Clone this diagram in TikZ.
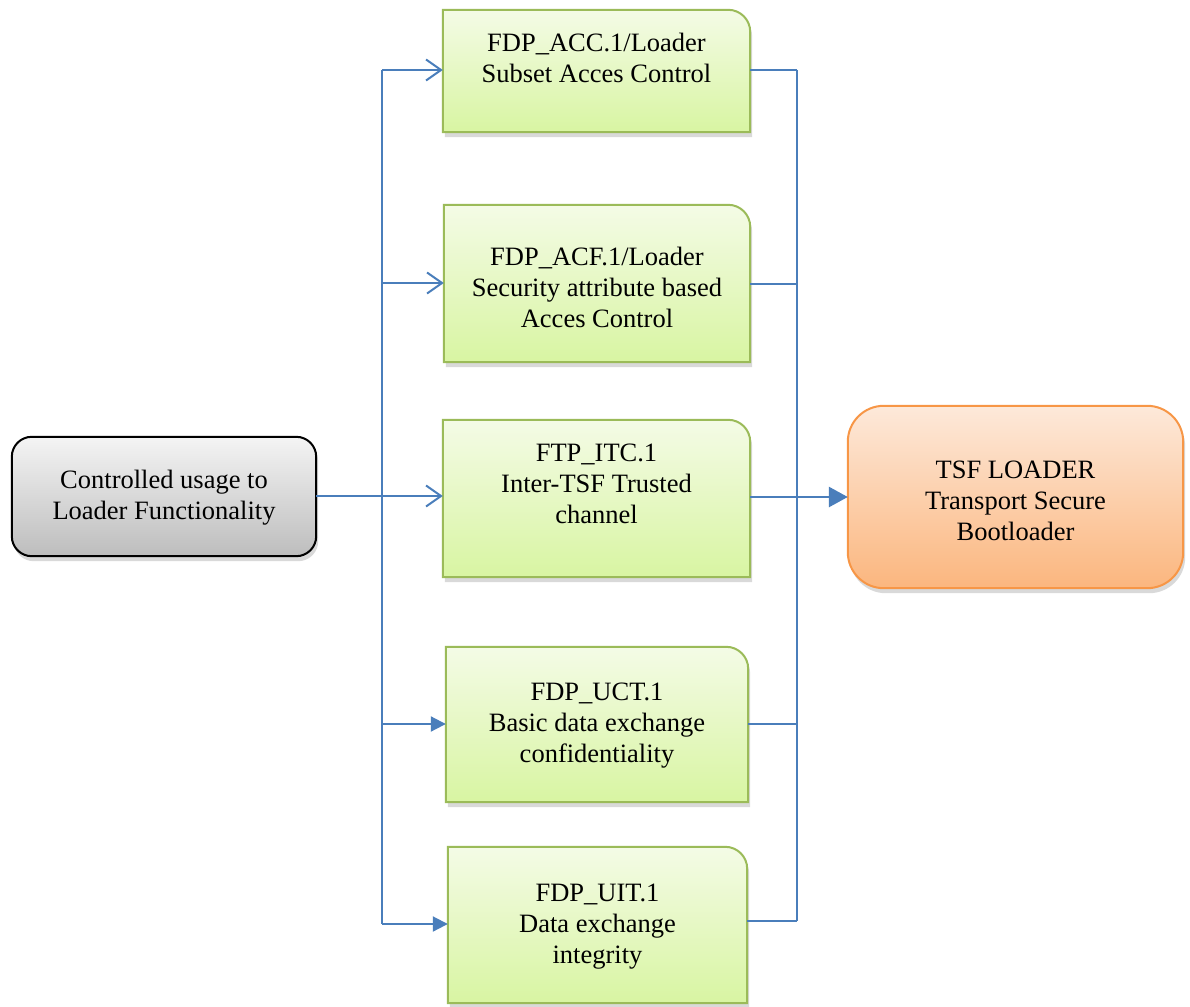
\documentclass[tikz,border=0pt]{standalone}
\usepackage{fontspec}
\setmainfont{Liberation Serif}
\usetikzlibrary{arrows.meta,shadows}
\definecolor{lineblue}{HTML}{4A7EBB}
\definecolor{gtop}{HTML}{F4FBE6}
\definecolor{gbot}{HTML}{D8F5A2}
\definecolor{gborder}{HTML}{9BBB59}
\definecolor{otop}{HTML}{FDE9DA}
\definecolor{obot}{HTML}{FBB67E}
\definecolor{oborder}{HTML}{F79646}
\definecolor{ktop}{HTML}{F4F4F4}
\definecolor{kbot}{HTML}{BDBDBD}
\tikzset{
  boxnode/.style={rectangle, inner sep=0pt},
  txt/.style={align=center, font=\fontsize{26.5}{31}\selectfont, inner sep=0pt},
  conn/.style={draw=lineblue, line width=2pt},
  openarr/.style={conn, -{Straight Barb[length=15pt,width=21pt,line width=2pt]}},
  fillarr/.style={conn, -{Triangle[length=15pt,width=15pt]}},
  softshadow/.style={drop shadow={shadow xshift=2pt, shadow yshift=-5pt, opacity=0.25, fill=black!60}}
}
\newcommand\mkgreenshape[1]{%
  \shade[draw=gborder, line width=2pt, top color=gtop, bottom color=gbot, softshadow]
    (#1.south west) -- (#1.north west) -- ([xshift=-22pt]#1.north east)
    arc[start angle=90, end angle=0, radius=22pt] -- (#1.south east) -- cycle;}
\begin{document}
\begin{tikzpicture}[x=1pt,y=1pt]
\useasboundingbox (0,0) rectangle (1190,-1006);
% box frames
\node[boxnode, minimum width=307pt, minimum height=122pt] (acc) at (596.5,-71) {};
\node[boxnode, minimum width=306pt, minimum height=157pt] (acf) at (597,-283.5) {};
\node[boxnode, minimum width=307pt, minimum height=157pt] (itc) at (596.5,-498.5) {};
\node[boxnode, minimum width=302pt, minimum height=155pt] (uct) at (597,-724.5) {};
\node[boxnode, minimum width=299pt, minimum height=156pt] (uit) at (597.5,-925) {};
\node[boxnode, minimum width=304pt, minimum height=119pt] (src) at (164,-496.5) {};
\node[boxnode, minimum width=335pt, minimum height=182pt] (tsf) at (1015.5,-497) {};
\mkgreenshape{acc}
\mkgreenshape{acf}
\mkgreenshape{itc}
\mkgreenshape{uct}
\mkgreenshape{uit}
\shade[draw=black, line width=2pt, rounded corners=20pt, top color=ktop, bottom color=kbot, softshadow]
  (src.south west) rectangle (src.north east);
\shade[draw=oborder, line width=2pt, rounded corners=36pt, top color=otop, bottom color=obot, softshadow]
  (tsf.south west) rectangle (tsf.north east);
% texts
\node[txt] (acct) at (596.5,-58) {FDP\_ACC.1/Loader\\Subset Acces Control};
\node[txt] (acft) at (597,-287) {FDP\_ACF.1/Loader\\Security attribute based\\Acces Control};
\node[txt] (itct) at (596.5,-484) {FTP\_ITC.1\\Inter-TSF Trusted\\channel};
\node[txt] (uctt) at (597,-726) {FDP\_UCT.1\\Basic data exchange\\confidentiality};
\node[txt] (uitt) at (597.5,-927) {FDP\_UIT.1\\Data exchange\\integrity};
\node[txt] (srct) at (164,-498) {Controlled usage to\\Loader Functionality};
\node[txt] (tsft) at (1015.5,-501) {TSF LOADER\\Transport Secure\\Bootloader};
% connector junctions
\coordinate (lt) at (382,-70);
\coordinate (lb) at (382,-924);
\coordinate (lm) at (382,-496);
\coordinate (rt) at (797,-70);
\coordinate (rb) at (797,-921);
\coordinate (rm) at (797,-497);
% left side
\draw[conn, line width=2.8pt] (src.east |- lm) -- (lm);
\draw[conn] (lt) -- (lb);
\draw[openarr] (lt) -- (acc.west |- lt);
\draw[openarr] (382,-283) -- (acf.west |- 0,-283);
\draw[openarr] (lm) -- (itc.west |- lm);
\draw[fillarr] (382,-724) -- (uct.west |- 0,-724);
\draw[fillarr] (lb) -- (uit.west |- lb);
% right side
\draw[conn] (rt) -- (rb);
\draw[conn] (acc.east |- rt) -- (rt);
\draw[conn] (acf.east |- 0,-284) -- (797,-284);
\draw[conn] (itc.east |- rm) -- (rm);
\draw[conn] (uct.east |- 0,-724) -- (797,-724);
\draw[conn] (uit.east |- rb) -- (rb);
\draw[conn, line width=2.8pt, -{Triangle[length=19pt,width=20pt]}] (rm) -- (tsf.west |- rm);
\end{tikzpicture}
\end{document}
